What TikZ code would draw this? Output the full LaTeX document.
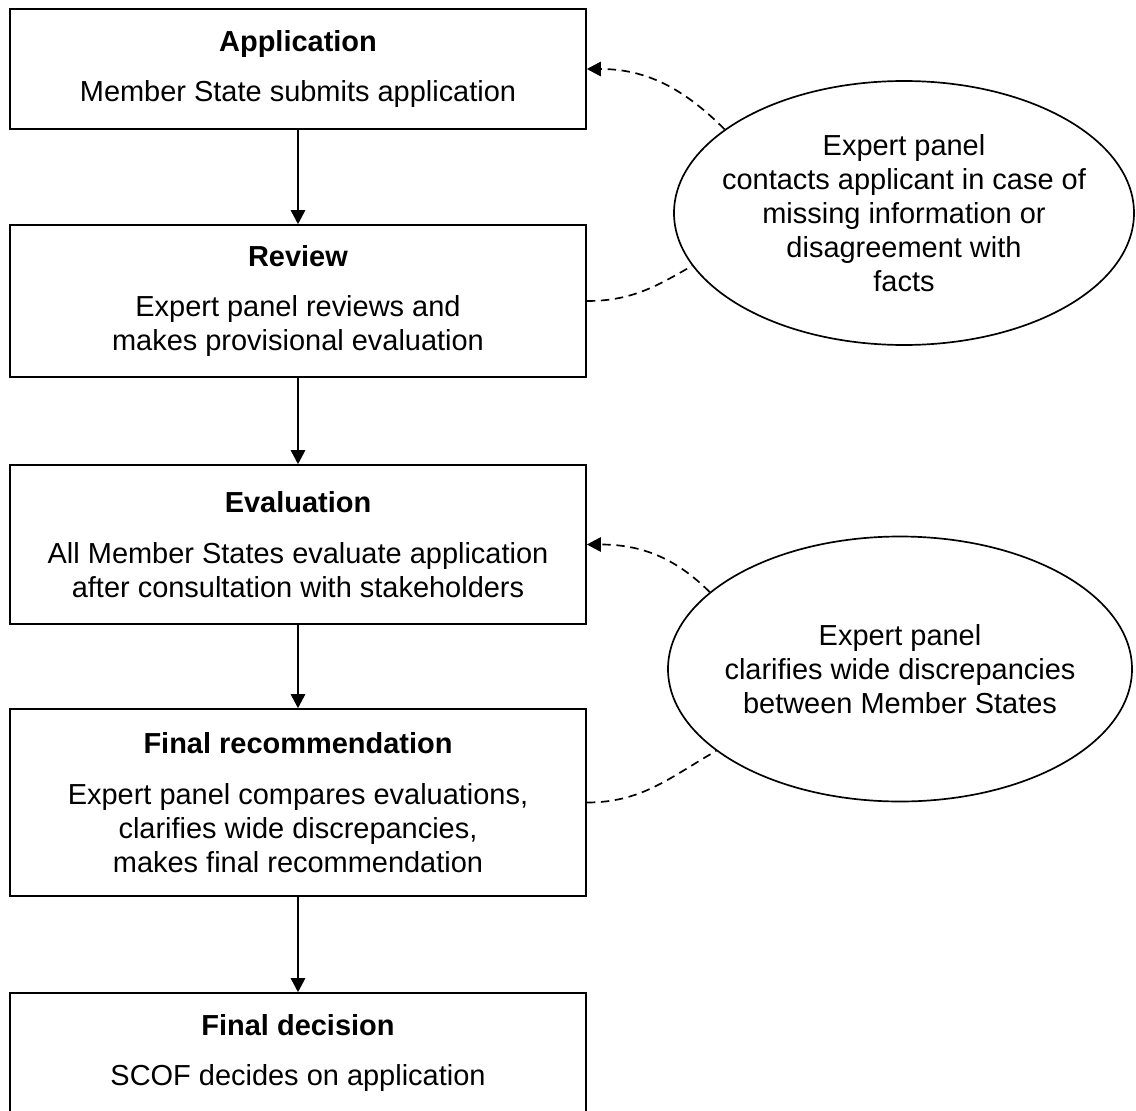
\documentclass[tikz,border=0pt]{standalone}
\usepackage{fontspec}
\setmainfont{Liberation Sans}
\usetikzlibrary{shapes, arrows.meta, positioning}
\tikzstyle{block} = [draw, fill=white, rectangle, minimum width=14.4cm, align=center]
\tikzstyle{note} = [draw, ellipse, inner sep=0pt]
\tikzstyle{link} = [dash pattern=on 6pt off 4pt]
\newcommand{\stage}[2]{\textbf{#1}\\[12pt]#2}

\begin{document}
\begin{tikzpicture}[auto,>={Triangle[length=0.35cm,width=0.36cm]},line width=1.2pt,
    font=\fontsize{20.6}{24.2}\selectfont]
  \useasboundingbox (0,0) rectangle (28.4,-27.775);
  \node[block, minimum height=3cm] (app) at (7.45,-1.725)
    {\stage{Application}{Member State submits application}};
  \node[block, below of=app, node distance=5.8cm, minimum height=3.8cm] (review)
    {\stage{Review}{Expert panel reviews and\\makes provisional evaluation}};
  \node[block, below of=review, node distance=6.0875cm, minimum height=3.975cm] (eval)
    {\stage{Evaluation}{All Member States evaluate application\\after consultation with stakeholders}};
  \node[block, below of=eval, node distance=6.45cm, minimum height=4.675cm] (finalrec)
    {\stage{Final recommendation}{Expert panel compares evaluations,\\clarifies wide discrepancies,\\makes final recommendation}};
  \node[block, below of=finalrec, node distance=6.2625cm, minimum height=3cm] (decision)
    {\stage{Final decision}{SCOF decides on application}};
  \node[note, minimum width=11.5cm, minimum height=6.6cm,
    label={[align=center]center:Expert panel\\contacts applicant in case of\\missing information or\\disagreement with\\facts}]
    (contact) at (22.6,-5.325) {};
  \node[note, minimum width=11.6cm, minimum height=6.625cm,
    label={[align=center]center:Expert panel\\clarifies wide discrepancies\\between Member States}]
    (clarify) at (22.5,-16.725) {};
  \draw[->] (app) -- (review);
  \draw[->] (review) -- (eval);
  \draw[->] (eval) -- (finalrec);
  \draw[->] (finalrec) -- (decision);
  \draw[->, link] (contact.155) to[out=135, in=0] (app.east);
  \draw[link] (review.east) to[out=0, in=210] (contact.194);
  \draw[->, link] (clarify.158) to[out=135, in=0] (eval.east);
  \draw[link] (finalrec.east) to[out=0, in=210] (clarify.204);
\end{tikzpicture}
\end{document}
